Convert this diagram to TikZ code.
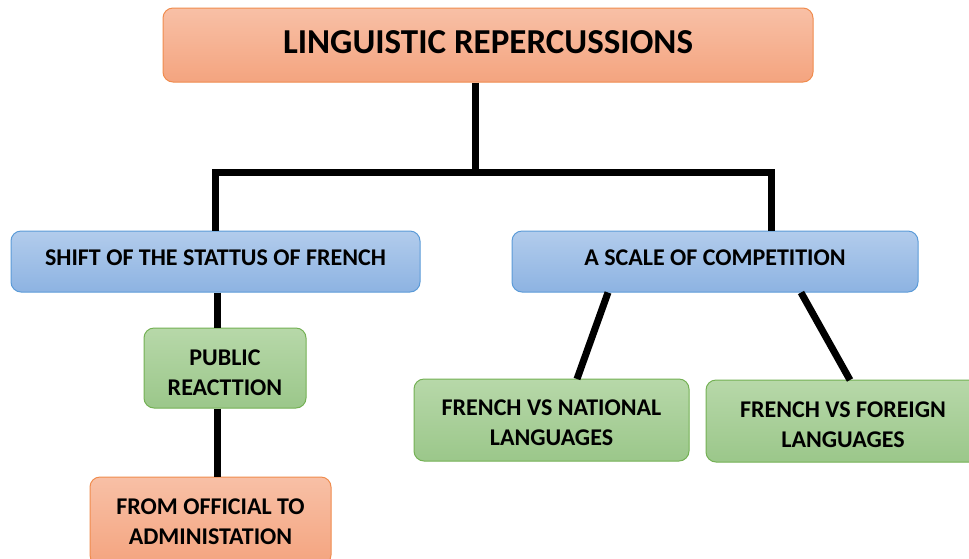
\documentclass[tikz,border=0pt]{standalone}
\usepackage{fontspec}
\setmainfont{Carlito}
\definecolor{orTop}{HTML}{F8C0A6}
\definecolor{orBot}{HTML}{F4A47F}
\definecolor{orLine}{HTML}{F08C4E}
\definecolor{blTop}{HTML}{B2CCEC}
\definecolor{blBot}{HTML}{8DB3E2}
\definecolor{blLine}{HTML}{5B9BD8}
\definecolor{grTop}{HTML}{B7D8A9}
\definecolor{grBot}{HTML}{9BC78A}
\definecolor{grLine}{HTML}{74B154}
\newcommand{\tstrut}[1]{\rule{0pt}{#1}}
\tikzset{
  box/.style={rounded corners=10pt, line width=1pt, inner sep=0pt, align=center,
    font=\fontsize{24}{30}\selectfont\bfseries},
  orbox/.style={box, draw=orLine, top color=orTop, bottom color=orBot},
  blbox/.style={box, draw=blLine, top color=blTop, bottom color=blBot, text depth=8pt},
  grbox/.style={box, draw=grLine, top color=grTop, bottom color=grBot},
  conn/.style={line width=7pt, draw=black, line join=miter},
}
\begin{document}
\begin{tikzpicture}[x=1pt,y=-1pt]
\clip (0,0) rectangle (969,558);
\fill[white] (0,0) rectangle (969,558);
% nodes
\node[orbox, minimum width=650pt, minimum height=74pt, text depth=6pt, font=\fontsize{35}{40}\selectfont\bfseries]
  (top) at (488,45) {LINGUISTIC REPERCUSSIONS};
\node[blbox, minimum width=409pt, minimum height=61pt] (bl) at (215.5,261.5) {SHIFT OF THE STATTUS OF FRENCH};
\node[blbox, minimum width=406pt, minimum height=61pt] (br) at (715,261.5) {A SCALE OF COMPETITION};
\node[grbox, minimum width=162pt, minimum height=80pt] (pub) at (225,368) {\tstrut{25pt}PUBLIC\\REACTTION};
\node[grbox, minimum width=275pt, minimum height=82pt] (nat) at (551.5,420) {\tstrut{22pt}FRENCH VS NATIONAL\\LANGUAGES};
\node[grbox, minimum width=274pt, minimum height=82pt] (for) at (843,421) {\tstrut{23pt}FRENCH VS FOREIGN\\LANGUAGES};
\node[orbox, minimum width=241pt, minimum height=88pt] (off) at (210.5,521) {\tstrut{18pt}FROM OFFICIAL TO\\ADMINISTATION};
% connector coordinates
\coordinate (j) at (475,172);
\coordinate (jl) at (215,172);
\coordinate (jr) at (771,172);
\coordinate (v) at (217,300);
\coordinate (a1) at (608,292.5);
\coordinate (a2) at (577,379);
\coordinate (b1) at (801,292.5);
\coordinate (b2) at (850,380);
% connectors
\draw[conn] (top.south -| j) -- (j);
\draw[conn] (bl.north -| jl) -- (jl) -- (jr) -- (br.north -| jr);
\draw[conn] (bl.south -| v) -- (pub.north -| v);
\draw[conn] (pub.south -| v) -- (off.north -| v);
\draw[conn] (a1) -- (a2);
\draw[conn] (b1) -- (b2);
\end{tikzpicture}
\end{document}
